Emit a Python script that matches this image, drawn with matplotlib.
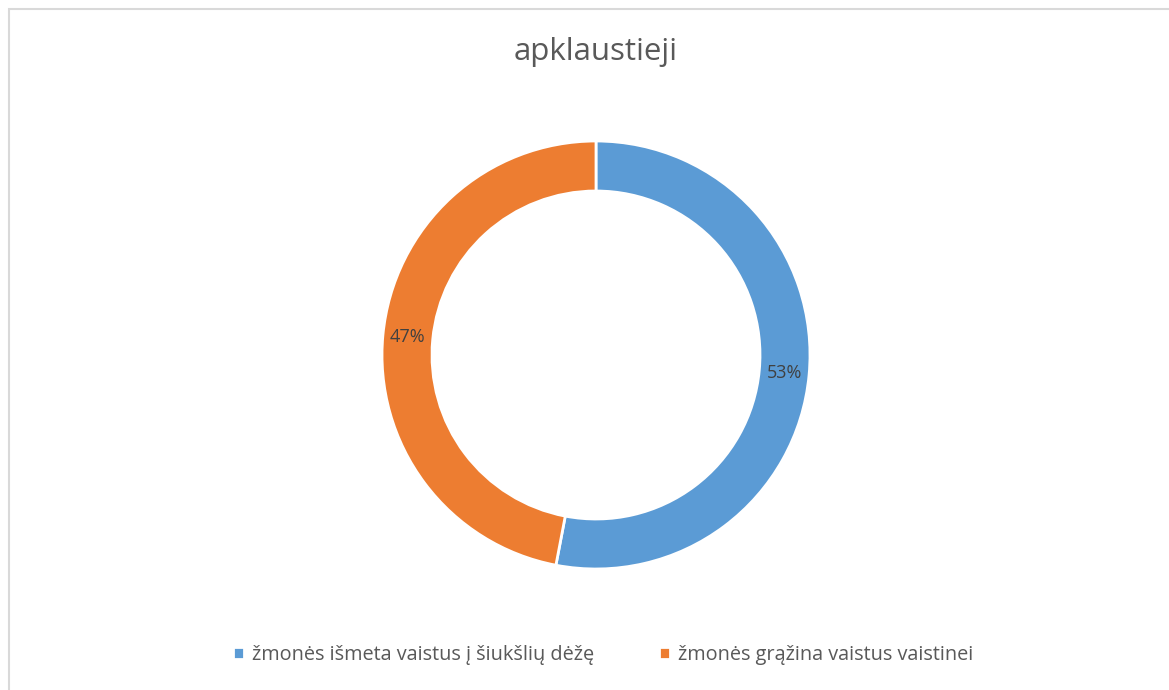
import matplotlib.pyplot as plt
from matplotlib.patches import Rectangle

# ========================= DATA =========================
labels = ['žmonės išmeta vaistus į šiukšlių dėžę', 'žmonės grąžina vaistus vaistinei']
values = [53, 47]
colors = ['#5B9BD5', '#ED7D31']

plt.rcParams['font.family'] = ['Open Sans', 'DejaVu Sans']

W, H = 1169, 690
fig = plt.figure(figsize=(W / 100, H / 100), dpi=100)

# chart frame (only left/top edges are inside the image)
fig.patches.append(Rectangle((9 / W, -0.1), 1.2, 1 - 9 / H + 0.1, transform=fig.transFigure,
                             fill=False, edgecolor='#D9D9D9', linewidth=1.5))

# donut
cx, cy, r = 596, 355, 214
ax = fig.add_axes([(cx - r) / W, (H - cy - r) / H, 2 * r / W, 2 * r / H])
ring = 50 / 214
wedges, _, pcts = ax.pie(values, colors=colors, startangle=90, counterclock=False,
                         autopct='%1.0f%%', pctdistance=1 - ring / 2,
                         wedgeprops=dict(width=ring, edgecolor='white', linewidth=2),
                         textprops=dict(color='#404040', fontsize=13))
ax.set_xlim(-1, 1)
ax.set_ylim(-1, 1)
ax.set_aspect('equal')
ax.axis('off')

fig.text(cx / W, 1 - 52 / H, 'apklaustieji', ha='center', va='center',
         fontsize=22.5, color='#595959')

fig.legend(wedges, labels, loc='center', bbox_to_anchor=(603 / W, 1 - 655 / H),
           ncol=2, frameon=False, fontsize=14.3, labelcolor='#595959',
           handlelength=0.55, handleheight=0.55, handletextpad=0.4, columnspacing=3.3)

fig.savefig('out.png', dpi=100)
